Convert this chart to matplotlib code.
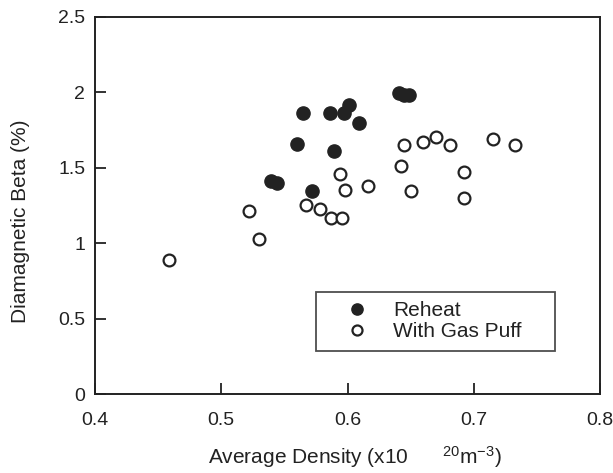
import matplotlib
matplotlib.use("Agg")
import matplotlib.pyplot as plt

plt.rcParams['font.family'] = ['Liberation Sans', 'DejaVu Sans']
plt.rcParams['mathtext.default'] = 'regular'

# Reheat (filled)
reheat_x = [0.5645, 0.5865, 0.5976, 0.601, 0.609, 0.560, 0.5897, 0.5394, 0.544,
            0.5717, 0.6407, 0.6447, 0.649]
reheat_y = [1.865, 1.865, 1.865, 1.914, 1.80, 1.656, 1.611, 1.413, 1.40,
            1.346, 1.995, 1.98, 1.98]

# With gas puff (open)
puff_x = [0.5937, 0.598, 0.616, 0.567, 0.5786, 0.587, 0.5955, 0.522, 0.530, 0.459,
          0.645, 0.6598, 0.670, 0.681, 0.7153, 0.733, 0.642, 0.692, 0.6506, 0.692]
puff_y = [1.461, 1.356, 1.38, 1.252, 1.23, 1.17, 1.17, 1.214, 1.026, 0.887,
          1.649, 1.671, 1.704, 1.649, 1.693, 1.649, 1.51, 1.472, 1.346, 1.30]

xticks = [0.4, 0.5, 0.6, 0.7, 0.8]
yticks = [0, 0.5, 1, 1.5, 2, 2.5]

ink = '#222222'

fig = plt.figure(figsize=(6.13, 4.73), dpi=100)
ax = fig.add_axes([95 / 613, 1 - 394 / 473, 505 / 613, 377 / 473])

ax.plot(reheat_x, reheat_y, 'o', color=ink, markersize=9.5, linestyle='none',
        label='Reheat')
ax.plot(puff_x, puff_y, 'o', markerfacecolor='white', markeredgecolor=ink,
        markeredgewidth=1.6, markersize=8.5, linestyle='none', label='With Gas Puff')

ax.set_xlim(0.4, 0.8)
ax.set_ylim(0, 2.5)
ax.set_xticks(xticks)
ax.set_xticklabels(['0.4', '0.5', '0.6', '0.7', '0.8'])
ax.set_yticks(yticks)
ax.set_yticklabels(['0', '0.5', '1', '1.5', '2', '2.5'])
ax.tick_params(direction='in', length=8, width=1.3, labelsize=14, colors=ink)
ax.tick_params(axis='x', pad=13)
ax.tick_params(axis='y', pad=7)
for s in ax.spines.values():
    s.set_linewidth(1.4)
    s.set_color(ink)

ax.set_xlabel('Average Density (x10      $^{20}$m$^{-3}$)', fontsize=15, color=ink)
ax.set_ylabel('Diamagnetic Beta (%)', fontsize=15, color=ink)
ax.xaxis.set_label_coords(0.515, -0.133)
ax.yaxis.set_label_coords(-0.129, 0.4576)

leg = ax.legend(loc='lower left', bbox_to_anchor=((316 - 95) / 505, (394 - 351) / 377,
                                                  (555 - 316) / 505, (351 - 282) / 377),
                mode='expand', fontsize=15, frameon=True, fancybox=False,
                borderpad=0.46, handletextpad=0.25, labelspacing=0.1,
                borderaxespad=0, handlelength=3.0, markerscale=0.85)
leg.get_frame().set_edgecolor(ink)
leg.get_frame().set_linewidth(1.3)
for t in leg.get_texts():
    t.set_color(ink)

fig.savefig('out.png', dpi=100)
